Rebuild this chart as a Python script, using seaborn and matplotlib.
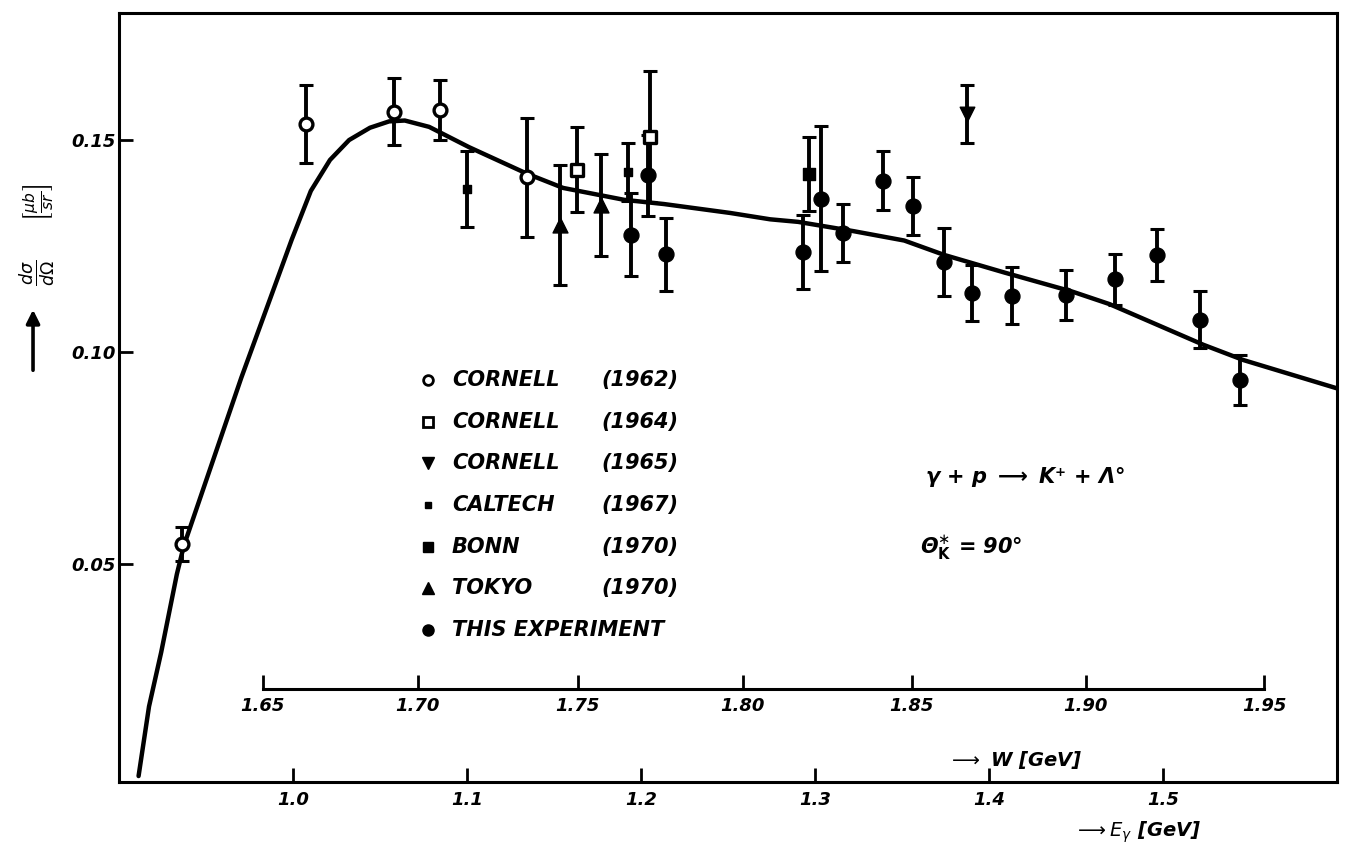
import numpy as np
import matplotlib
matplotlib.use("Agg")
import matplotlib.pyplot as plt
import seaborn as sns

# ---------------------------------------------------------------
# gamma + p -> K+ + Lambda, differential cross section at 90 deg
# ---------------------------------------------------------------

# Theoretical curve (photon energy in GeV, dsigma/dOmega in microbarn/sr)
curve_E = [0.911, 0.917, 0.924, 0.933, 0.937, 0.970, 0.999, 1.010, 1.021,
           1.032, 1.044, 1.055, 1.064, 1.078, 1.101, 1.134, 1.155, 1.190,
           1.213, 1.251, 1.274, 1.290, 1.322, 1.351, 1.374, 1.409, 1.448,
           1.469, 1.523, 1.546, 1.600]
curve_V = [0.000, 0.0164, 0.0292, 0.0476, 0.0543, 0.0939, 0.1265, 0.1380,
           0.1453, 0.1500, 0.1529, 0.1544, 0.1546, 0.1531, 0.1483, 0.1421,
           0.1387, 0.1359, 0.1349, 0.1328, 0.1313, 0.1307, 0.1285, 0.1263,
           0.1229, 0.1187, 0.1142, 0.1113, 0.1017, 0.0981, 0.0914]

# Cornell (1962)
cornell62_E = [0.936, 1.007, 1.058, 1.084, 1.134]
cornell62_V = [0.0547, 0.1538, 0.1567, 0.1571, 0.1412]
cornell62_err = [0.0040, 0.0092, 0.0079, 0.0071, 0.0140]

# Cornell (1964)
cornell64_E = [1.163, 1.205]
cornell64_V = [0.1430, 0.1508]
cornell64_err = [0.0100, 0.0154]

# Cornell (1965)
cornell65_E = [1.387]
cornell65_V = [0.1561]
cornell65_err = [0.0068]

# Caltech (1967)
caltech67_E = [1.100, 1.192]
caltech67_V = [0.1384, 0.1425]
caltech67_err = [0.0090, 0.0068]

# Bonn (1970)
bonn70_E = [1.296]
bonn70_V = [0.1420]
bonn70_err = [0.0088]

# Tokyo (1970)
tokyo70_E = [1.153, 1.177]
tokyo70_V = [0.1300, 0.1346]
tokyo70_err = [0.0142, 0.0120]

# This experiment
this_E = [1.194, 1.204, 1.214, 1.293, 1.303, 1.316, 1.339, 1.356, 1.374,
          1.390, 1.413, 1.444, 1.472, 1.496, 1.521, 1.544]
this_V = [0.1277, 0.1417, 0.1231, 0.1236, 0.1362, 0.1280, 0.1404, 0.1344,
          0.1213, 0.1139, 0.1133, 0.1135, 0.1172, 0.1228, 0.1076, 0.0934]
this_err = [0.0098, 0.0095, 0.0086, 0.0088, 0.0170, 0.0068, 0.0070, 0.0068,
            0.0080, 0.0066, 0.0068, 0.0059, 0.0060, 0.0061, 0.0067, 0.0058]

# Legend texts
legend_names = ["CORNELL", "CORNELL", "CORNELL", "CALTECH", "BONN", "TOKYO",
                "THIS EXPERIMENT"]
legend_years = ["(1962)", "(1964)", "(1965)", "(1967)", "(1970)", "(1970)", ""]

# Axis ticks
E_ticks = [1.0, 1.1, 1.2, 1.3, 1.4, 1.5]
E_tick_labels = ["1.0", "1.1", "1.2", "1.3", "1.4", "1.5"]
W_ticks = [1.65, 1.70, 1.75, 1.80, 1.85, 1.90, 1.95]
W_tick_labels = ["1.65", "1.70", "1.75", "1.80", "1.85", "1.90", "1.95"]
V_ticks = [0.05, 0.10, 0.15]
V_tick_labels = ["0.05", "0.10", "0.15"]

M_P = 0.938  # proton mass, GeV


def e_to_w(e):
    """Photon lab energy -> c.m. energy W."""
    e = np.asarray(e, dtype=float)
    return np.sqrt(np.clip(M_P ** 2 + 2.0 * M_P * e, 1e-9, None))


def w_to_e(w):
    """c.m. energy W -> photon lab energy."""
    w = np.asarray(w, dtype=float)
    return (w ** 2 - M_P ** 2) / (2.0 * M_P)


sns.set_theme(style="white")
plt.rcParams["font.family"] = ["DejaVu Sans"]
plt.rcParams["mathtext.fontset"] = "dejavusans"
plt.rcParams["text.color"] = "black"
plt.rcParams["xtick.color"] = "black"
plt.rcParams["ytick.color"] = "black"
plt.rcParams["axes.labelcolor"] = "black"

fig = plt.figure(figsize=(13.48, 8.55), dpi=100)
ax = fig.add_axes([0.0886, 0.0849, 0.9036, 0.9001])

# theory curve
sns.lineplot(x=curve_E, y=curve_V, ax=ax, color="black", linewidth=3.2,
             sort=False, estimator=None, zorder=1)

# measurement sets: (E, V, err, marker, face, size, edge width)
datasets = [
    (cornell62_E, cornell62_V, cornell62_err, "o", "white", 85, 2.4),
    (cornell64_E, cornell64_V, cornell64_err, "s", "white", 85, 2.4),
    (cornell65_E, cornell65_V, cornell65_err, "v", "black", 110, 1.0),
    (caltech67_E, caltech67_V, caltech67_err, "s", "black", 35, 1.0),
    (bonn70_E, bonn70_V, bonn70_err, "s", "black", 80, 1.0),
    (tokyo70_E, tokyo70_V, tokyo70_err, "^", "black", 115, 1.0),
    (this_E, this_V, this_err, "o", "black", 115, 1.0),
]

for E, V, err, mk, face, size, lw in datasets:
    ax.errorbar(E, V, yerr=err, fmt="none", ecolor="black", elinewidth=2.8,
                capsize=5, capthick=2.2, zorder=2)
    sns.scatterplot(x=E, y=V, ax=ax, marker=mk, s=size, color=face,
                    edgecolor="black", linewidth=lw, zorder=3, legend=False)

# axes limits, ticks and frame
ax.set_xlim(0.90, 1.60)
ax.set_ylim(-0.0015, 0.18)
tick_font = dict(fontsize=13, fontweight="bold", fontstyle="italic",
                 color="black")
ax.set_xticks(E_ticks, labels=E_tick_labels, **tick_font)
ax.set_yticks(V_ticks, labels=V_tick_labels, **tick_font)
ax.tick_params(axis="both", which="major", direction="in", length=10,
               width=2, color="black", bottom=True, left=True)
ax.tick_params(axis="x", pad=6)
ax.tick_params(axis="y", pad=3)
for sp in ax.spines.values():
    sp.set_visible(True)
    sp.set_color("black")
    sp.set_linewidth(2.2)
ax.set_xlabel("")
ax.set_ylabel("")

# centre-of-mass energy scale drawn inside the frame
sec = ax.secondary_xaxis(0.1212, functions=(e_to_w, w_to_e))
sec.set_xticks(W_ticks, labels=W_tick_labels, **tick_font)
sec.tick_params(direction="in", length=10, width=2, color="black", pad=6)
sec.spines["bottom"].set_bounds(W_ticks[0], W_ticks[-1])
sec.spines["bottom"].set_linewidth(2.2)
sec.spines["bottom"].set_color("black")

# legend (two text columns with symbols)
key_styles = [
    dict(marker="o", mfc="white", mec="black", ms=7, mew=2.0),
    dict(marker="s", mfc="white", mec="black", ms=7, mew=2.0),
    dict(marker="v", mfc="black", mec="black", ms=8, mew=1.0),
    dict(marker="s", mfc="black", mec="black", ms=5, mew=1.0),
    dict(marker="s", mfc="black", mec="black", ms=7, mew=1.0),
    dict(marker="^", mfc="black", mec="black", ms=9, mew=1.0),
    dict(marker="o", mfc="black", mec="black", ms=8, mew=1.0),
]
bold_it = dict(fontweight="bold", fontstyle="italic", color="black")
leg_font = dict(fontsize=15, va="center", transform=ax.transAxes, **bold_it)
for i, (name, year, st) in enumerate(zip(legend_names, legend_years,
                                         key_styles)):
    yy = 0.523 - i * 0.0542
    ax.plot([0.2533], [yy], transform=ax.transAxes, linestyle="none",
            clip_on=False, **st)
    ax.text(0.273, yy, name, ha="left", **leg_font)
    if year:
        ax.text(0.3953, yy, year, ha="left", **leg_font)

# reaction and angle
ax.text(0.6613, 0.3969, r"γ + p $\mathbf{\longrightarrow}$ K⁺ + Λ°",
        fontsize=15, ha="left", va="center", transform=ax.transAxes,
        **bold_it)
ax.text(0.6572, 0.3046, r"Θ$^{\ast}_{\mathbf{K}}$ = 90°", fontsize=15,
        ha="left", va="center", transform=ax.transAxes, **bold_it)

# axis titles
ax.text(0.680, 0.029, r"$\longrightarrow$ W [GeV]", fontsize=14,
        ha="left", va="center", transform=ax.transAxes, **bold_it)
ax.text(0.784, -0.0643, r"$\longrightarrow E_{\gamma}$ [GeV]", fontsize=14,
        ha="left", va="center", transform=ax.transAxes, clip_on=False,
        **bold_it)

# ordinate title: arrow, d sigma / d Omega and units
fig.text(0.0275, 0.6807, r"$\frac{d\sigma}{d\Omega}$", rotation=90,
         fontsize=18, ha="center", va="center")
fig.text(0.029, 0.7626, r"$\left[\frac{\mu b}{sr}\right]$", rotation=90,
         fontsize=16, ha="center", va="center")
fig.add_artist(matplotlib.patches.FancyArrowPatch(
    (0.0245, 0.5637), (0.0245, 0.641), transform=fig.transFigure,
    arrowstyle="-|>,head_length=8,head_width=4", color="black", lw=2.6))

fig.savefig("out.png", dpi=100, facecolor="white")
